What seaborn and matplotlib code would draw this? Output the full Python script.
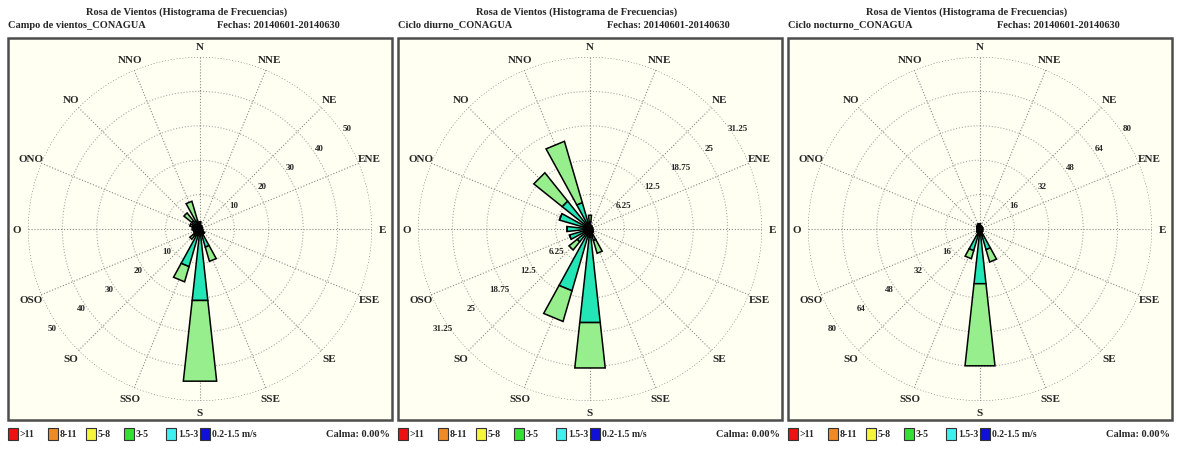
import numpy as np
import matplotlib
matplotlib.use("Agg")
import matplotlib.pyplot as plt
from matplotlib.patches import Rectangle
import seaborn as sns

# direcciones (sentido horario desde el norte)
dirs = ["N", "NNE", "NE", "ENE", "E", "ESE", "SE", "SSE",
        "S", "SSO", "SO", "OSO", "O", "ONO", "NO", "NNO"]

panel_names = ["Campo de vientos_CONAGUA", "Ciclo diurno_CONAGUA", "Ciclo nocturno_CONAGUA"]
fechas = "Fechas: 20140601-20140630"
titulo = "Rosa de Vientos (Histograma de Frecuencias)"
ring_max = [50, 31.25, 80]
calma = [0.00, 0.00, 0.00]

legend_labels = [">11", "8-11", "5-8", "3-5", "1.5-3", "0.2-1.5 m/s"]
legend_colors = ["#ee1111", "#f08a24", "#f5f53a", "#33e033", "#3ef0f0", "#1010d8"]

# frecuencias (%) por clase de velocidad
campo_02_15 = [0.8, 0.6, 0.5, 0.4, 0.4, 0.5, 0.7, 1.0, 1.5, 1.2, 1.0, 0.8, 0.8, 0.8, 1.0, 1.0]
campo_15_3 = [1.0, 0.5, 0.3, 0.3, 0.3, 0.4, 0.8, 4.5, 19.4, 10.2, 1.5, 1.0, 1.2, 1.5, 2.0, 1.5]
campo_3_5 = [0.3, 0.0, 0.0, 0.0, 0.0, 0.0, 0.2, 4.3, 23.6, 4.6, 1.3, 0.2, 0.3, 0.8, 3.0, 5.9]

diurno_02_15 = [0.5, 0.4, 0.3, 0.3, 0.3, 0.3, 0.4, 0.6, 1.5, 1.0, 0.8, 0.8, 1.0, 1.0, 1.0, 0.8]
diurno_15_3 = [0.8, 0.3, 0.2, 0.2, 0.2, 0.3, 0.4, 1.6, 15.6, 10.7, 2.2, 3.1, 3.2, 4.8, 5.5, 4.2]
diurno_3_5 = [1.2, 0.0, 0.0, 0.0, 0.0, 0.0, 0.0, 2.4, 8.3, 5.8, 1.9, 0.0, 0.0, 0.0, 6.6, 11.6]

nocturno_02_15 = [1.5, 1.0, 1.0, 1.0, 1.0, 1.0, 1.2, 1.5, 2.5, 1.5, 1.2, 1.0, 1.0, 1.0, 1.2, 1.5]
nocturno_15_3 = [1.0, 0.5, 0.3, 0.3, 0.3, 0.3, 0.5, 8.5, 23.1, 9.0, 0.8, 0.5, 0.5, 0.5, 0.8, 1.0]
nocturno_3_5 = [0.0, 0.0, 0.0, 0.0, 0.0, 0.0, 0.0, 6.0, 38.4, 3.9, 0.0, 0.0, 0.0, 0.0, 0.0, 0.0]

panels = [
    [campo_02_15, campo_15_3, campo_3_5],
    [diurno_02_15, diurno_15_3, diurno_3_5],
    [nocturno_02_15, nocturno_15_3, nocturno_3_5],
]
bar_colors = ["#12127a", "#22e6b6", "#96ee8c"]

sns.set_theme(style="white")
plt.rcParams["font.family"] = ["Liberation Serif", "DejaVu Serif"]
plt.rcParams["font.weight"] = "bold"

W, H = 1177, 451
fig = plt.figure(figsize=(W / 100, H / 100), dpi=100)
fig.patch.set_facecolor("white")

# capa de fondo en pixeles
bg = fig.add_axes([0, 0, 1, 1], zorder=0)
bg.set_xlim(0, W)
bg.set_ylim(H, 0)
bg.axis("off")

theta = np.deg2rad(np.arange(16) * 22.5)
width = np.deg2rad(12.5)
R = 172

for i, (name, data, rmax) in enumerate(zip(panel_names, panels, ring_max)):
    off = 390 * i
    cx, cy = 200 + off, 229

    # marco del panel
    bg.add_patch(Rectangle((8 + off, 38), 384, 382, facecolor="#fffff2",
                           edgecolor="#4d4d4d", lw=1.8))
    bg.text(187 + off, 12, titulo, ha="center", va="center", fontsize=7.5, fontweight="bold")
    bg.text(8 + off, 25, name, ha="left", va="center", fontsize=7.5, fontweight="bold")
    bg.text(217 + off, 25, fechas, ha="left", va="center", fontsize=7.5, fontweight="bold")

    # leyenda
    lx = [8, 48, 86, 124, 166, 200]
    for x, lab, col in zip(lx, legend_labels, legend_colors):
        bg.add_patch(Rectangle((x + off, 428), 10, 12, facecolor=col, edgecolor="#333333", lw=0.8))
        bg.text(x + off + 12, 434.5, lab, ha="left", va="center", fontsize=7, fontweight="bold")
    bg.text(390 + off, 434.5, f"Calma: {calma[i]:.2f}%", ha="right", va="center",
            fontsize=7.5, fontweight="bold")

    ax = fig.add_axes([(cx - R) / W, (H - (cy + R)) / H, 2 * R / W, 2 * R / H],
                      projection="polar", zorder=1)
    ax.set_facecolor("none")
    ax.set_theta_zero_location("N")
    ax.set_theta_direction(-1)
    ax.grid(False)
    ax.spines["polar"].set_visible(False)
    ax.set_xticks([])
    ax.set_yticks([])

    # rejilla
    step = rmax / 5
    tt = np.linspace(0, 2 * np.pi, 361)
    for k in range(1, 6):
        ax.plot(tt, np.full_like(tt, step * k), ls=":", lw=0.8,
                color="#777777" if k == 5 else "#aaaaaa", zorder=1)
    for t in theta:
        ax.plot([t, t], [0, rmax], ls=":", lw=0.8, color="#888888", zorder=1)

    # barras apiladas (extremos rectos como en el original)
    bottom = np.zeros(16)
    for vals, col in zip(data, bar_colors):
        vals = np.array(vals)
        bars = ax.bar(theta, vals, width=width, bottom=bottom, color=col,
                      edgecolor="black", lw=1.1, zorder=3)
        for p in bars:
            p.get_path()._interpolation_steps = 1
        bottom = bottom + vals

    # etiquetas de direccion
    for t, d in zip(theta, dirs):
        ax.text(t, rmax * 183 / R, d, ha="center", va="center_baseline", fontsize=8,
                fontweight="bold", clip_on=False)

    # etiquetas de anillos
    for k in range(1, 6):
        v = step * k
        for a in (56, 236):
            ax.text(np.deg2rad(a), v + rmax * 6 / R, f"{v:g}", ha="center", va="center",
                    fontsize=6.5, fontweight="bold", clip_on=False)

    ax.set_ylim(0, rmax)

fig.savefig("out.png", dpi=100)
